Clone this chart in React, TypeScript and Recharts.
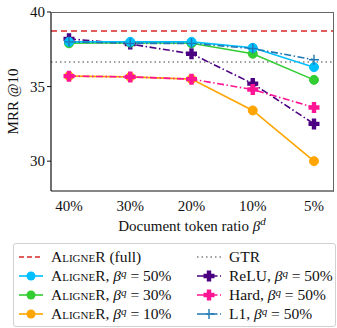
import React from 'react';
import { LineChart, Line, XAxis, YAxis, ReferenceLine } from 'recharts';

const ratios = ['40%', '30%', '20%', '10%', '5%'];
const aligner50 = [38.0, 38.0, 38.0, 37.6, 36.3];
const aligner30 = [37.9, 37.95, 37.9, 37.2, 35.45];
const aligner10 = [35.7, 35.65, 35.5, 33.4, 30.0];
const relu50 = [38.2, 37.85, 37.2, 35.2, 32.5];
const hard50 = [35.7, 35.65, 35.5, 34.8, 33.6];
const l150 = [38.0, 37.9, 37.9, 37.55, 36.8];
const alignerFull = 38.73;
const gtr = 36.65;
const yTicks = [30, 35, 40];

const data = ratios.map((r, i) => ({
  ratio: r,
  a50: aligner50[i],
  a30: aligner30[i],
  a10: aligner10[i],
  relu: relu50[i],
  hard: hard50[i],
  l1: l150[i],
}));

const FONT = '"Liberation Serif", "DejaVu Serif", serif';
const DASHDOT = '7 2.5 1.5 2.5';

const C = {
  full: '#d62728',
  gtr: '#808080',
  a50: '#00bfff',
  a30: '#32cd32',
  a10: '#ffa500',
  relu: '#4b0082',
  hard: '#ff1493',
  l1: '#1f77b4',
};

const circleDot = (color: string) => (props: any) => {
  const { cx, cy, index } = props;
  return <circle key={index} cx={cx} cy={cy} r={4.5} fill={color} stroke={color} />;
};

const thickPlus = (color: string) => (props: any) => {
  const { cx, cy, index } = props;
  const a = 5.5;
  const t = 2.2;
  const d = `M${cx - t},${cy - a}H${cx + t}V${cy - t}H${cx + a}V${cy + t}H${cx + t}V${cy + a}H${cx - t}V${cy + t}H${cx - a}V${cy - t}H${cx - t}Z`;
  return <path key={index} d={d} fill={color} />;
};

const thinPlus = (color: string) => (props: any) => {
  const { cx, cy, index } = props;
  const a = 5;
  return (
    <path key={index} d={`M${cx - a},${cy}H${cx + a}M${cx},${cy - a}V${cy + a}`} stroke={color} strokeWidth={1.4} fill="none" />
  );
};

const XLabel = (props: any) => {
  const { viewBox } = props;
  const x = viewBox.x + viewBox.width / 2;
  return (
    <text x={x} y={viewBox.y + 40} textAnchor="middle" fontFamily={FONT} fontSize={15} fill="#111">
      Document token ratio <tspan fontStyle="italic">β</tspan>
      <tspan fontStyle="italic" fontSize={11} dy={-6}>d</tspan>
    </text>
  );
};

const YLabel = (props: any) => {
  const { viewBox } = props;
  const cy = viewBox.y + viewBox.height / 2;
  return (
    <text
      x={18}
      y={cy}
      transform={`rotate(-90, 18, ${cy})`}
      textAnchor="middle"
      fontFamily={FONT}
      fontSize={15}
      fill="#111"
    >
      MRR @10
    </text>
  );
};

const Aligner = () => <span style={{ fontVariant: 'small-caps' }}>AligneR</span>;
const Bq = () => (
  <span>
    <i>β</i>
    <sup style={{ fontSize: 11, fontStyle: 'italic', verticalAlign: 4 }}>q</sup>
  </span>
);

const LegendIcon = ({ color, dash, marker, width = 1.6 }: { color: string; dash?: string; marker?: string; width?: number }) => (
  <svg width={26} height={12} style={{ marginRight: 7, flex: 'none' }}>
    <line x1={1} y1={6} x2={25} y2={6} stroke={color} strokeWidth={width} strokeDasharray={dash} />
    {marker === 'circle' && <circle cx={13} cy={6} r={4.5} fill={color} />}
    {marker === 'thick' && thickPlus(color)({ cx: 13, cy: 6, index: 0 })}
    {marker === 'thin' && thinPlus(color)({ cx: 13, cy: 6, index: 0 })}
  </svg>
);

const rows = [
  [
    { icon: <LegendIcon color={C.full} dash="5 3" />, label: <><Aligner /> (full)</> },
    { icon: <LegendIcon color={C.gtr} dash="1.5 3" />, label: <>GTR</> },
  ],
  [
    { icon: <LegendIcon color={C.a50} marker="circle" />, label: <><Aligner />, <Bq /> = 50%</> },
    { icon: <LegendIcon color={C.relu} dash={DASHDOT} marker="thick" />, label: <>ReLU, <Bq /> = 50%</> },
  ],
  [
    { icon: <LegendIcon color={C.a30} marker="circle" />, label: <><Aligner />, <Bq /> = 30%</> },
    { icon: <LegendIcon color={C.hard} dash={DASHDOT} marker="thick" />, label: <>Hard, <Bq /> = 50%</> },
  ],
  [
    { icon: <LegendIcon color={C.a10} marker="circle" />, label: <><Aligner />, <Bq /> = 10%</> },
    { icon: <LegendIcon color={C.l1} dash={DASHDOT} marker="thin" />, label: <>L1, <Bq /> = 50%</> },
  ],
];

export default function App() {
  return (
    <div style={{ position: 'absolute', left: 0, top: 0, width: 337, height: 328, background: '#fff', fontFamily: FONT }}>
      <LineChart width={337} height={240} data={data} margin={{ top: 12, right: 4, left: 0, bottom: 0 }}>
        <XAxis
          dataKey="ratio"
          padding={{ left: 18, right: 19 }}
          tickLine={false}
          axisLine={{ stroke: '#111', strokeWidth: 1.2 }}
          tick={{ fontFamily: FONT, fontSize: 15, fill: '#111' }}
          tickMargin={3}
          height={49}
          interval={0}
          label={<XLabel />}
        />
        <YAxis
          domain={[28, 40]}
          ticks={yTicks}
          width={51}
          tickSize={4}
          tickLine={{ stroke: '#111' }}
          axisLine={{ stroke: '#111', strokeWidth: 1.2 }}
          tick={{ fontFamily: FONT, fontSize: 15, fill: '#111' }}
          label={<YLabel />}
        />
        <ReferenceLine y={alignerFull} stroke={C.full} strokeWidth={1.5} strokeDasharray="6 4" />
        <ReferenceLine y={gtr} stroke={C.gtr} strokeWidth={1.5} strokeDasharray="1.5 3" />
        <Line dataKey="relu" stroke={C.relu} strokeWidth={1.6} strokeDasharray={DASHDOT} dot={thickPlus(C.relu)} isAnimationActive={false} />
        <Line dataKey="a30" stroke={C.a30} strokeWidth={1.6} dot={circleDot(C.a30)} isAnimationActive={false} />
        <Line dataKey="a10" stroke={C.a10} strokeWidth={1.6} dot={circleDot(C.a10)} isAnimationActive={false} />
        <Line dataKey="hard" stroke={C.hard} strokeWidth={1.6} strokeDasharray={DASHDOT} dot={thickPlus(C.hard)} isAnimationActive={false} />
        <Line dataKey="a50" stroke={C.a50} strokeWidth={1.6} dot={circleDot(C.a50)} isAnimationActive={false} />
        <Line dataKey="l1" stroke={C.l1} strokeWidth={1.6} strokeDasharray={DASHDOT} dot={thinPlus(C.l1)} isAnimationActive={false} />
      </LineChart>
      {/* top and right edges of the plot frame */}
      <div
        style={{
          position: 'absolute',
          left: 51,
          top: 12,
          width: 282,
          height: 179,
          borderTop: '1px solid #666',
          borderRight: '1px solid #666',
          pointerEvents: 'none',
        }}
      />
      <div
        style={{
          position: 'absolute',
          left: 13,
          top: 243,
          width: 321,
          height: 82,
          border: '1px solid #d0d0d0',
          borderRadius: 3,
          fontSize: 15.5,
          color: '#111',
        }}
      >
        {rows.map((row, ri) => (
          <div key={ri} style={{ position: 'absolute', top: 3 + ri * 19.3, left: 0, width: '100%', height: 19 }}>
            {row.map((item, ci) => (
              <div
                key={ci}
                style={{ position: 'absolute', left: ci === 0 ? 4 : 182, top: 0, height: 19, display: 'flex', alignItems: 'center', whiteSpace: 'nowrap' }}
              >
                {item.icon}
                <span>{item.label}</span>
              </div>
            ))}
          </div>
        ))}
      </div>
    </div>
  );
}
